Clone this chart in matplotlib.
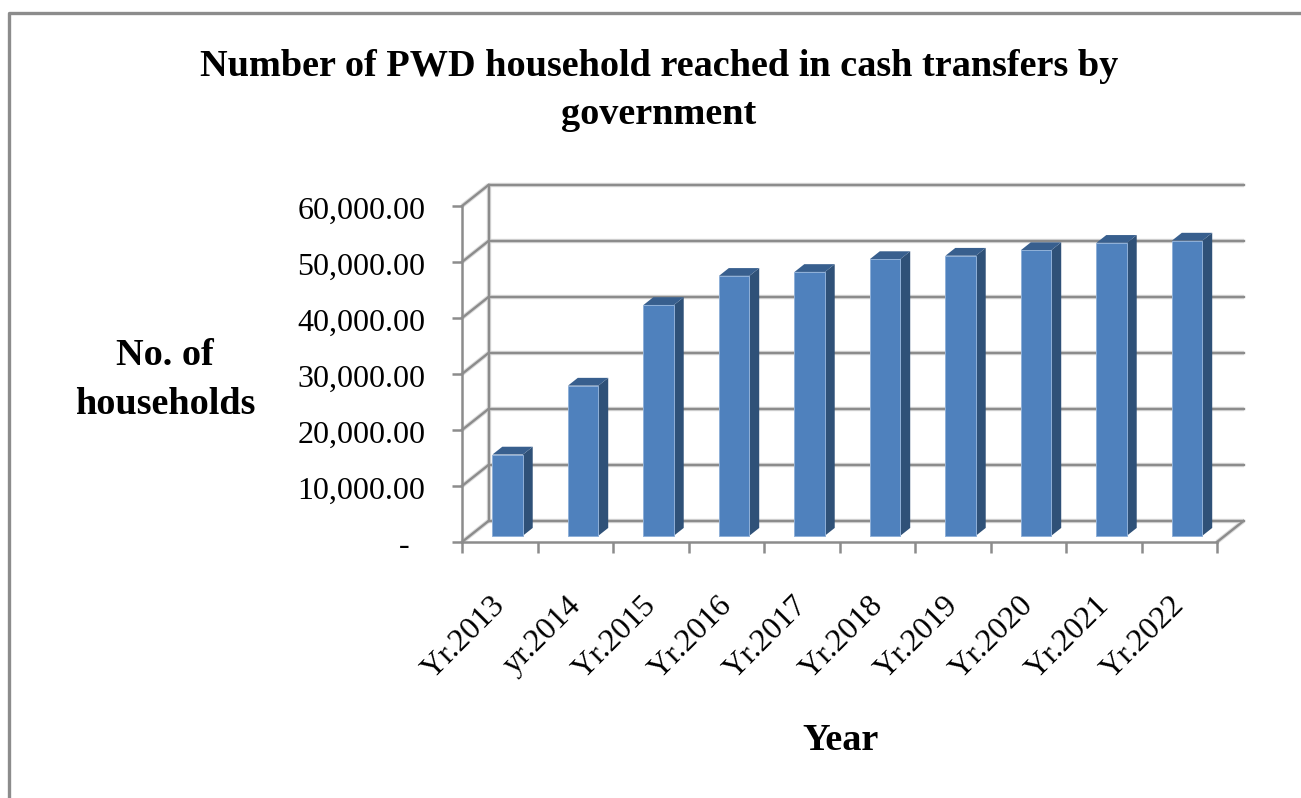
import matplotlib
matplotlib.use("Agg")
import matplotlib.pyplot as plt
from matplotlib.lines import Line2D
from matplotlib.patches import Polygon
from matplotlib.transforms import ScaledTranslation

plt.rcParams['font.family'] = ['Liberation Serif', 'DejaVu Serif']

years = ["Yr.2013", "yr.2014", "Yr.2015", "Yr.2016", "Yr.2017",
         "Yr.2018", "Yr.2019", "Yr.2020", "Yr.2021", "Yr.2022"]
households = [14500, 26800, 41200, 46400, 47100, 49400, 50000, 51000, 52300, 52700]
y_ticks = [0, 10000, 20000, 30000, 40000, 50000, 60000]
y_labels = ["-\u00a0\u00a0", "10,000.00", "20,000.00", "30,000.00",
            "40,000.00", "50,000.00", "60,000.00"]

GREY = "#8c8c8c"
HALO = "#dcdcdc"
BLUE = "#4f81bd"
BLUE_SIDE = "#2f5178"
BLUE_TOP = "#385f8e"

# depth of the fake 3d box, in axis units
wall_dx = 0.351
wall_dy = 3750
bar_front = 0.3
bar_depth = 0.37
bar_width = 0.403
label_shift = 0.12

W, H = 1301, 798
fig = plt.figure(figsize=(W / 100, H / 100), dpi=100, facecolor="white")
ax = fig.add_axes([462 / W, 1 - 542 / H, 755 / W, 336 / H])
ax.set_xlim(0, len(years))
ax.set_ylim(0, 60000)
ax.patch.set_visible(False)
for side in ["top", "right"]:
    ax.spines[side].set_visible(False)
for side in ["left", "bottom"]:
    ax.spines[side].set_color(GREY)
    ax.spines[side].set_linewidth(1.8)


def box_line(xs, ys):
    ax.plot(xs, ys, color=HALO, lw=3.2, clip_on=False, zorder=1, solid_capstyle="butt")
    ax.plot(xs, ys, color=GREY, lw=1.7, clip_on=False, zorder=1.1, solid_capstyle="projecting")


# back wall, gridlines and floor
for t in y_ticks:
    box_line([0, wall_dx], [t, t + wall_dy])
    box_line([wall_dx, len(years) + wall_dx], [t + wall_dy, t + wall_dy])
box_line([wall_dx, wall_dx], [wall_dy, 60000 + wall_dy])
box_line([len(years), len(years) + wall_dx], [0, wall_dy])

# bars: front face plus the two sheared faces
for i, v in enumerate(households):
    cx = i + 0.5 + bar_front * wall_dx
    base = bar_front * wall_dy
    ax.bar(cx, v, width=bar_width, bottom=base, color=BLUE, edgecolor="#8fb0d8",
           linewidth=0.7, clip_on=False, zorder=4)
    x0 = cx - bar_width / 2
    x1 = cx + bar_width / 2
    top = base + v
    off_x = bar_depth * wall_dx
    off_y = bar_depth * wall_dy
    ax.add_patch(Polygon([(x1, base), (x1 + off_x, base + off_y), (x1 + off_x, top + off_y), (x1, top)],
                         closed=True, facecolor=BLUE_SIDE, edgecolor="none", clip_on=False, zorder=3))
    ax.add_patch(Polygon([(x0, top), (x1, top), (x1 + off_x, top + off_y), (x0 + off_x, top + off_y)],
                         closed=True, facecolor=BLUE_TOP, edgecolor="none", clip_on=False, zorder=3))

ax.set_yticks(y_ticks, labels=y_labels)
ax.tick_params(axis="y", length=7.2, width=1.8, color=GREY, pad=19, labelsize=23)

# ticks sit between categories, labels near the middle of each slot
ax.set_xticks(range(len(years) + 1), labels=[""] * (len(years) + 1))
ax.set_xticks([i + 0.5 - label_shift for i in range(len(years))], labels=years, minor=True)
ax.tick_params(axis="x", which="major", length=7.6, width=1.8, color=GREY)
ax.tick_params(axis="x", which="minor", length=0, pad=35, labelsize=23)
for lab in ax.get_xticklabels(minor=True):
    lab.set_rotation(45)
    lab.set_ha("right")
    lab.set_va("top")
    lab.set_rotation_mode("anchor")

# nudge the value labels down a little
nudge = ScaledTranslation(0, -1.5 / 100, fig.dpi_scale_trans)
for lab in ax.get_yticklabels():
    lab.set_transform(lab.get_transform() + nudge)

fig.text(659 / W, 1 - 90.5 / H, "Number of PWD household reached in cash transfers by\ngovernment",
         ha="center", va="center", fontsize=27.5, fontweight="bold", linespacing=1.46)
fig.text(165 / W, 1 - 380 / H, "No. of\nhouseholds", ha="center", va="center",
         fontsize=27.5, fontweight="bold", linespacing=1.49)
fig.text(841 / W, 1 - 740 / H, "Year", ha="center", va="center", fontsize=27.5, fontweight="bold")

# outer chart border, top and left only
fig.add_artist(Line2D([8.5 / W, 8.5 / W, 1], [0, 1 - 12.5 / H, 1 - 12.5 / H],
                      color=GREY, lw=2.4, transform=fig.transFigure))

fig.savefig("out.png", dpi=100)
